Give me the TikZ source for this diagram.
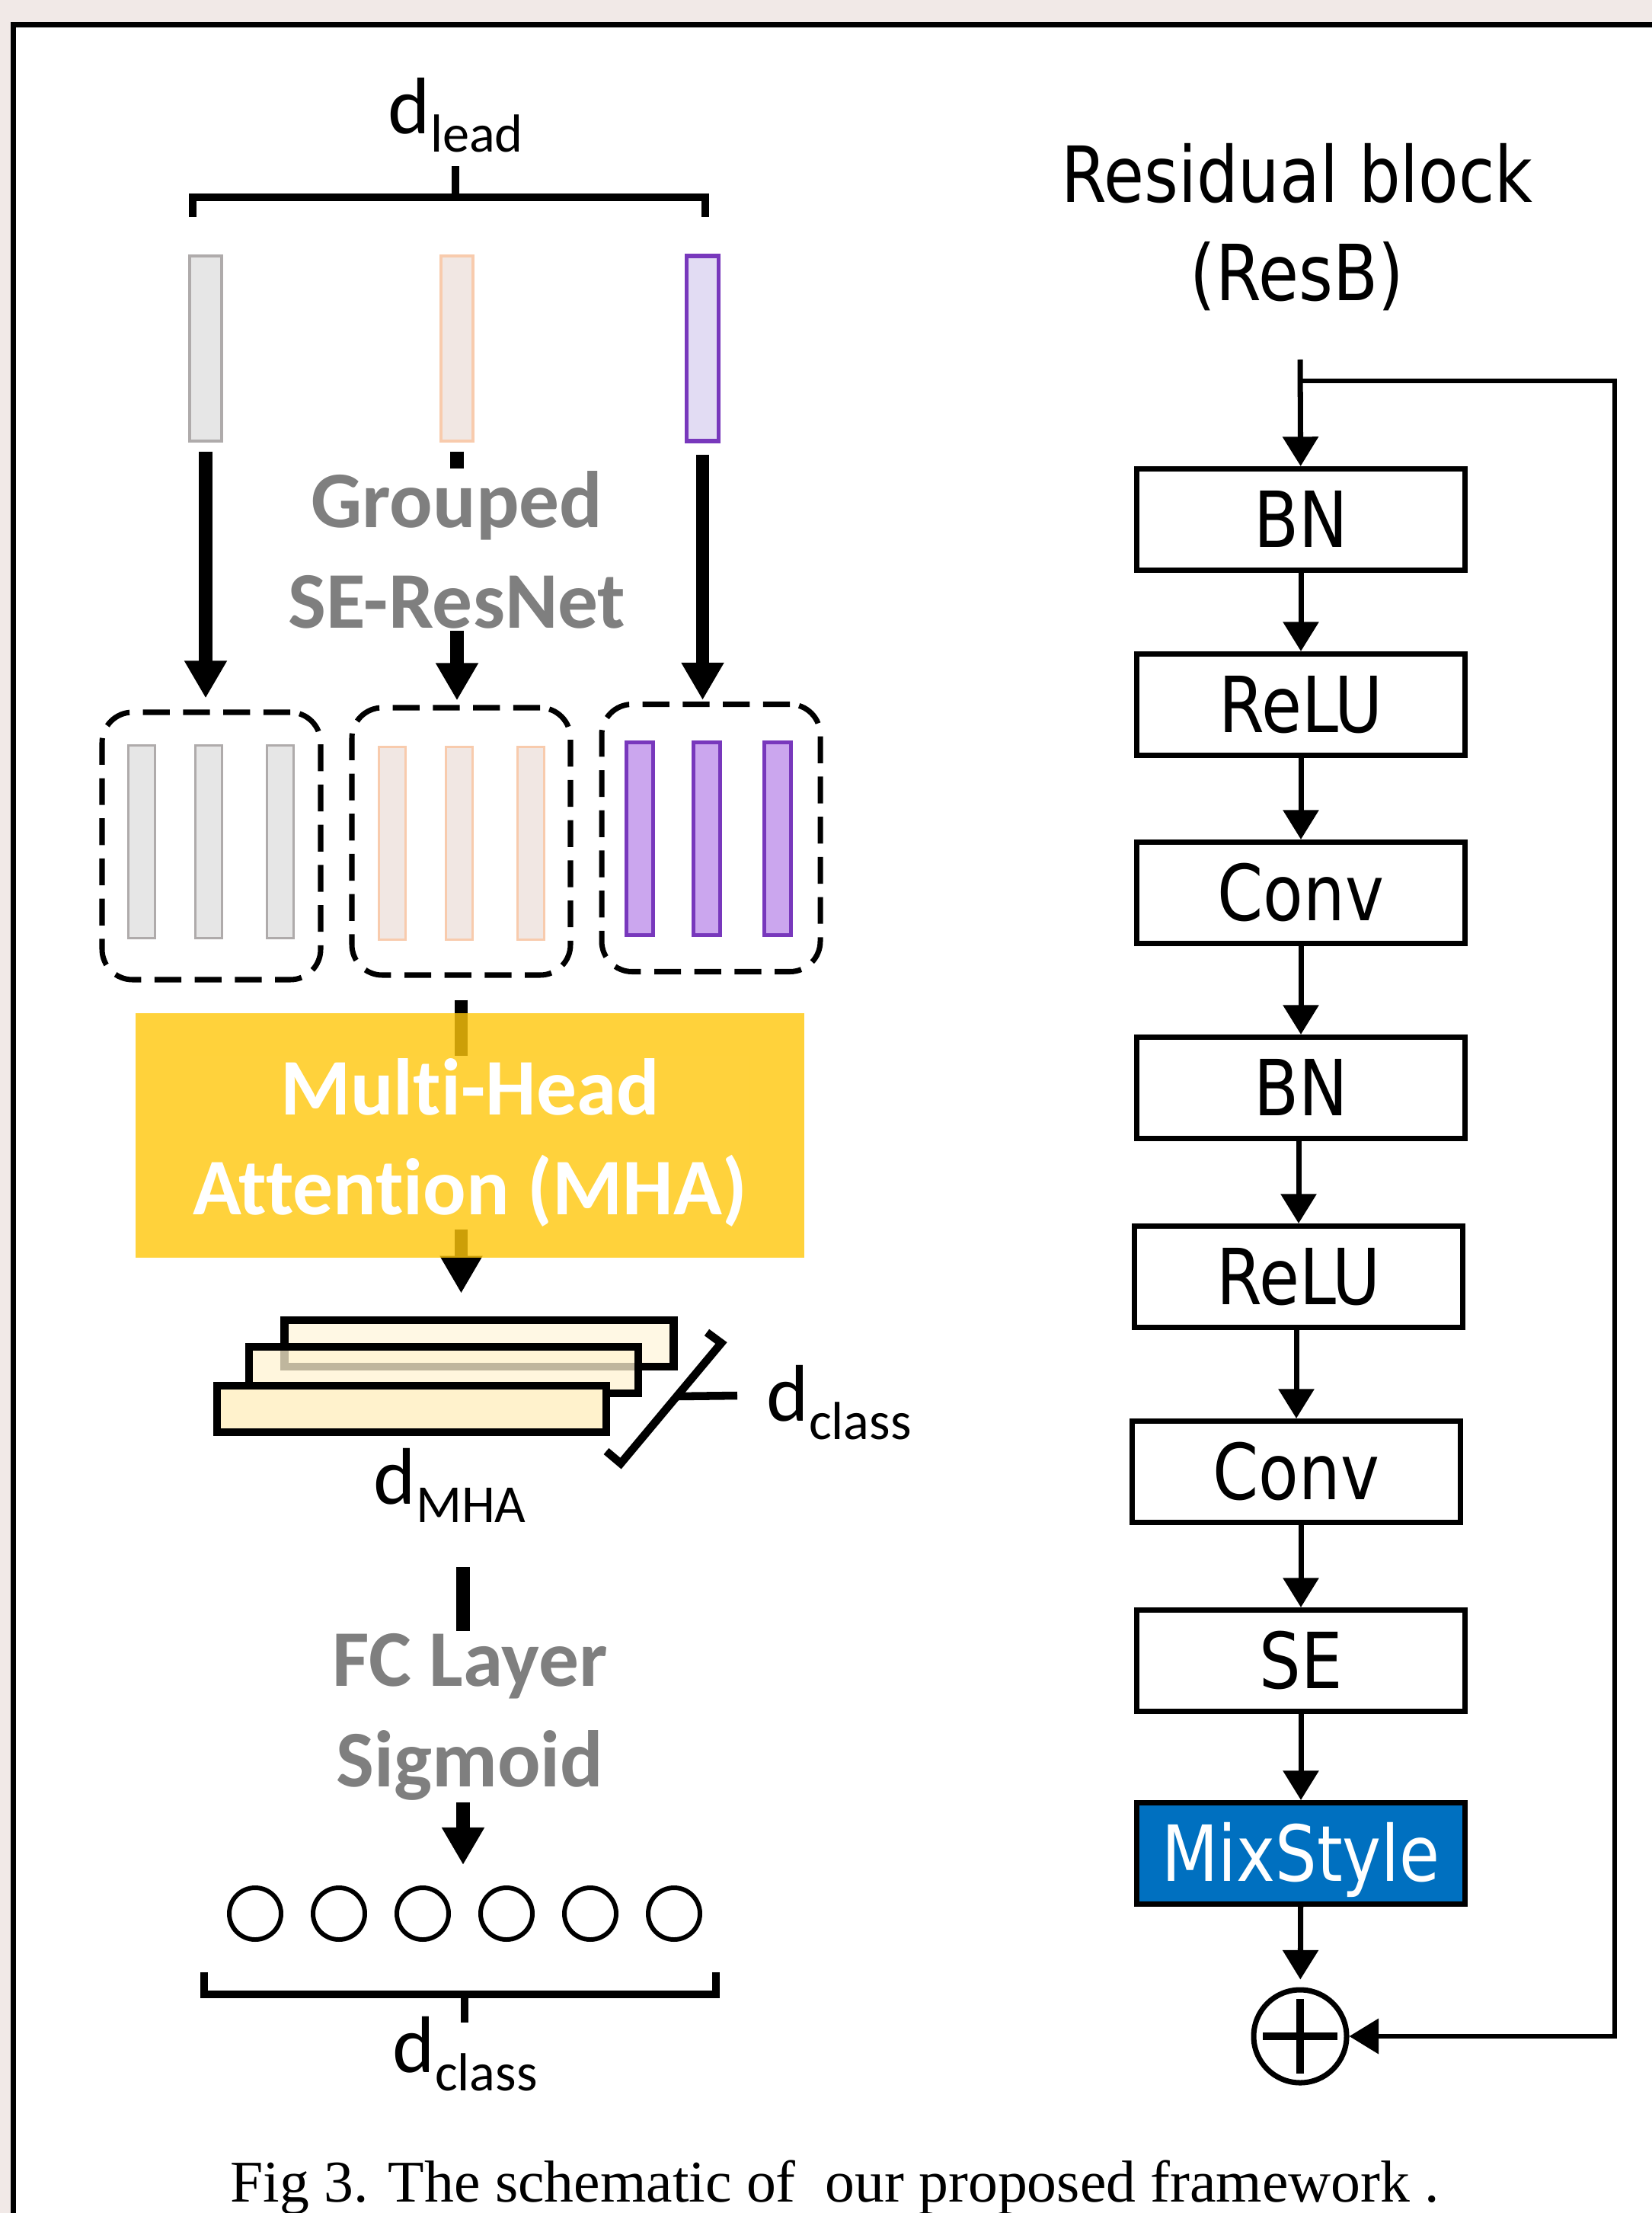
\documentclass[tikz,border=0pt]{standalone}
\usepackage{fontspec}
\setmainfont{Liberation Serif}
\newfontfamily\calibri[Ligatures={NoCommon,NoDiscretionary,NoContextual}]{Carlito}
\newfontfamily\dejavu{DejaVu Sans}
\usepackage{graphicx}
\usetikzlibrary{arrows.meta}

\definecolor{pagepink}{RGB}{241,233,231}
\definecolor{leadgray}{RGB}{230,230,230}
\definecolor{leadgrayline}{RGB}{175,171,171}
\definecolor{peachfill}{RGB}{241,231,227}
\definecolor{peachline}{RGB}{248,203,173}
\definecolor{lilac}{RGB}{226,220,243}
\definecolor{featviolet}{RGB}{120,56,188}
\definecolor{violetfill}{RGB}{203,166,238}
\definecolor{mhayellow}{RGB}{255,210,60}
\definecolor{mhashade}{RGB}{255,199,11}
\definecolor{cream1}{RGB}{255,248,228}
\definecolor{cream2}{RGB}{255,244,210}
\definecolor{cream3}{RGB}{255,242,204}
\definecolor{mixblue}{RGB}{0,112,192}
\definecolor{labelgray}{RGB}{127,127,127}

\newcommand{\dimlab}[1]{{\calibri\fontsize{30}{36}\selectfont d\raisebox{-0.24cm}{\fontsize{20}{24}\selectfont #1}}}
\newcommand{\tallsans}[1]{\scalebox{1}[1.18]{#1}}

\tikzset{
  bigarrow/.style={-{Triangle[width=15pt,length=14pt]}, line width=5pt},
  flowarrow/.style={-{Triangle[width=13pt,length=11pt]}, line width=2pt},
  bracketline/.style={line width=3pt},
  leadvec/.style={draw, line width=1pt, minimum width=0.42cm, minimum height=2.43cm, inner sep=0pt},
  featvec/.style={draw, line width=1pt, minimum width=0.35cm, minimum height=2.53cm, inner sep=0pt},
  groupbox/.style={draw, line width=2pt, dash pattern=on 10pt off 5pt, rounded corners=0.4cm, minimum width=2.87cm, minimum height=3.51cm},
  greylabel/.style={text=labelgray, font=\calibri\bfseries\fontsize{30}{37.5}\selectfont, align=center, inner sep=0.03cm},
  mhalayer/.style={draw, line width=3pt, minimum width=5.11cm, minimum height=0.61cm, inner sep=0pt},
  outcirc/.style={circle, draw, line width=1.7pt, minimum size=0.68cm, inner sep=0pt},
  resbox/.style={draw, line width=2pt, minimum width=4.31cm, minimum height=1.33cm, inner sep=0pt,
    font=\dejavu\fontsize{24.5}{29}\selectfont, text height=21pt, text depth=0pt},
}

\begin{document}
\begin{tikzpicture}[x=1cm, y=-1cm]
  \useasboundingbox (0,0) rectangle (21.69,29.05);
  \fill[pagepink] (0,0) rectangle (21.69,29.05);
  \fill[white] (0.175,0.325) rectangle (21.69,29.05);
  \draw[line width=2pt] (21.69,0.325) -- (0.175,0.325) -- (0.175,29.05);

  % leads
  \draw[bracketline] (2.53,2.85) -- (2.53,2.59) -- (9.26,2.59) -- (9.26,2.85);
  \draw[bracketline] (5.98,2.59) -- (5.98,2.18);
  \node[anchor=base west, inner sep=0pt] (dlead) at (5.09,1.76) {\dimlab{lead}};
  \node[leadvec, fill=leadgray, draw=leadgrayline] (lead1) at (2.70,4.575) {};
  \node[leadvec, fill=peachfill, draw=peachline] (lead2) at (6.00,4.575) {};
  \node[leadvec, fill=lilac, draw=featviolet, line width=1.6pt] (lead3) at (9.225,4.575) {};

  % grouped feature maps
  \node[groupbox] (grp1) at (2.775,11.105) {};
  \node[groupbox] (grp2) at (6.055,11.045) {};
  \node[groupbox] (grp3) at (9.335,11.0) {};
  \foreach \x [count=\i] in {1.86,2.74,3.68}
    \node[featvec, fill=leadgray, draw=leadgrayline] (gray\i) at (\x,11.05) {};
  \foreach \x [count=\i] in {5.15,6.03,6.97}
    \node[featvec, fill=peachfill, draw=peachline] (peach\i) at (\x,11.07) {};
  \foreach \x [count=\i] in {8.40,9.28,10.21}
    \node[featvec, fill=violetfill, draw=featviolet, line width=1.4pt] (violet\i) at (\x,11.01) {};

  \draw[bigarrow, shorten <=0.12cm, shorten >=0.15cm] (lead1.south) -- (lead1.south |- grp1.north);
  \draw[bigarrow, shorten <=0.12cm, shorten >=0.06cm] (lead2.south) -- (lead2.south |- grp2.north);
  \draw[bigarrow, shorten <=0.15cm, shorten >=0.02cm] (lead3.south) -- (lead3.south |- grp3.north);
  \node[greylabel, fill=white] (gse) at (6.00,7.215) {Grouped\\SE-ResNet};

  % attention and its output
  \node[mhalayer, fill=cream1] (layer1) at (6.29,17.635) {};
  \node[mhalayer, fill=cream2, fill opacity=0.75] (layer2) at (5.825,17.985) {};
  \node[mhalayer, fill=cream3] (layer3) at (5.405,18.495) {};
  \draw[bigarrow, shorten <=0.29cm, shorten >=0.30cm] (grp2.south) -- (grp2.south |- layer1.north);
  \node[fill=mhashade, fill opacity=0.8, minimum width=8.78cm, minimum height=3.21cm] (mha) at (6.17,14.905) {};
  \node[fill=mhayellow, text=white, font=\calibri\bfseries\fontsize{30}{37.5}\selectfont, align=center, inner sep=0.03cm] (mhatext) at (6.17,15.0) {Multi-Head\\Attention (MHA)};

  \draw[bracketline] (9.28,17.49) -- (9.47,17.63) -- (8.15,19.21) -- (7.96,19.05);
  \draw[bracketline] (8.88,18.33) -- (9.68,18.32);
  \node[anchor=base west, inner sep=0pt] (dclassr) at (10.06,18.65) {\dimlab{class}};
  \node[anchor=base west, inner sep=0pt] (dmha) at (4.90,19.74) {\dimlab{MHA}};

  % classifier
  \foreach \x [count=\i] in {3.35,4.45,5.55,6.65,7.75,8.85}
    \node[outcirc] (c\i) at (\x,25.12) {};
  \coordinate (fcin) at (6.08,20.57);
  \draw[bigarrow, shorten >=0.27cm] (fcin) -- (fcin |- c3.north);
  \node[greylabel, fill=white] (fc) at (6.17,22.535) {FC Layer\\Sigmoid};
  \draw[bracketline] (2.68,25.89) -- (2.68,26.18) -- (9.40,26.18) -- (9.40,25.89);
  \draw[bracketline] (6.10,26.18) -- (6.10,26.55);
  \node[anchor=base west, inner sep=0pt] (dclassb) at (5.15,27.20) {\dimlab{class}};

  % residual block
  \node[font=\dejavu\fontsize{24.5}{36.7}\selectfont, align=center, inner sep=0pt] (resb) at (17.03,2.985)
    {\tallsans{Residual block}\\\tallsans{(ResB)}};
  \node[resbox] (bn1) at (17.08,6.82) {\tallsans{BN}};
  \node[resbox] (relu1) at (17.08,9.25) {\tallsans{ReLU}};
  \node[resbox] (conv1) at (17.08,11.72) {\tallsans{Conv}};
  \node[resbox] (bn2) at (17.08,14.28) {\tallsans{BN}};
  \node[resbox] (relu2) at (17.05,16.76) {\tallsans{ReLU}};
  \node[resbox] (conv2) at (17.02,19.32) {\tallsans{Conv}};
  \node[resbox] (se) at (17.08,21.80) {\tallsans{SE}};
  \node[resbox, fill=mixblue, text=white] (mix) at (17.08,24.33) {\tallsans{MixStyle}};
  \node[circle, draw, line width=2pt, minimum size=1.22cm, inner sep=0pt] (add) at (17.07,26.73) {};
  \draw[line width=2.6pt] (add.center) ++(-0.49,0) -- ++(0.98,0);
  \draw[line width=2.6pt] (add.center) ++(0,-0.49) -- ++(0,0.98);

  \coordinate (resin) at (17.07,4.72);
  \coordinate (split) at (17.07,5.00);
  \draw[flowarrow] (resin) -- (bn1);
  \foreach \a/\b in {bn1/relu1, relu1/conv1, conv1/bn2, bn2/relu2, relu2/conv2, conv2/se, se/mix}
    \draw[flowarrow] (\b.north |- \a.south) -- (\b.north);
  \draw[flowarrow, shorten >=0.1cm] (mix) -- (add);
  \draw[flowarrow, line width=1.6pt] (split) -- (21.20,5.00) |- (add);

  \node[anchor=base west, inner sep=0pt, font=\fontsize{22.1}{26}\selectfont] (caption) at (3.02,28.90)
    {Fig 3. The schematic of\ \ our proposed framework .};
\end{tikzpicture}
\end{document}
